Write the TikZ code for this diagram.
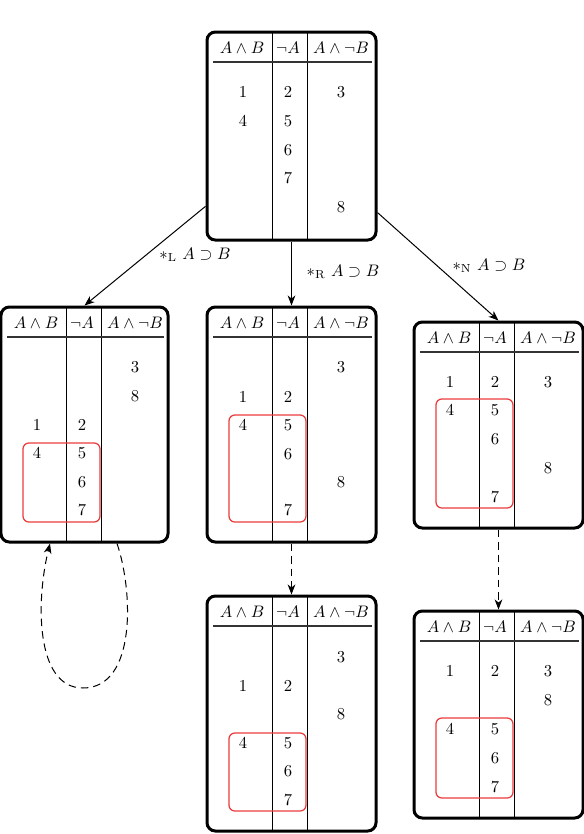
\documentclass[tikz,border=0pt]{standalone}
\usetikzlibrary{fit,arrows.meta}
\definecolor{boxred}{RGB}{235,60,60}
\tikzset{
  tbox/.style={draw, line width=1.8pt, rounded corners=5pt, inner sep=0pt},
  rbox/.style={draw=boxred, line width=0.75pt, rounded corners=3.5pt, inner sep=0pt},
  divline/.style={line width=0.55pt},
  hrule/.style={line width=0.8pt, draw=black!80},
  cell/.style={inner sep=0pt, anchor=center},
  conn/.style={line width=0.6pt, -{Stealth[length=6pt,width=4.6pt,inset=1.8pt]}},
  dconn/.style={conn, dash pattern=on 4.5pt off 3pt},
  lbl/.style={inner sep=0pt, anchor=center}
}
\newcommand\tbl[6]{%
  \coordinate (#1-nw) at (#2,#3);
  \coordinate (#1-se) at (#4,#5);
  \draw[divline] ({#2+65},#3) -- ({#2+65},#5);
  \draw[divline] ({#2+100},#3) -- ({#2+100},#5);
  \draw[hrule] ({#2+6},{#3+30}) -- ({#4-4},{#3+30});
  \node[tbox, fit=(#1-nw)(#1-se)] (#1) {};
  \node[cell] (#1-h1) at ({#2+35},{#3+16}) {$A\wedge B$};
  \node[cell] (#1-h2) at ({#2+81},{#3+16}) {$\neg A$};
  \node[cell] (#1-h3) at ({#2+134},{#3+16}) {$A\wedge\neg B$};
  \foreach \cx/\cy/\ct in {#6} \node[cell] (#1-n\ct) at ({#2+\cx},\cy) {$\ct$};
}
\newcommand\redbox[4]{%
  \coordinate (#1-ra) at ({#2+22},#3);
  \coordinate (#1-rb) at ({#2+99},#4);
  \node[rbox, fit=(#1-ra)(#1-rb)] (#1-red) {};
}
\begin{document}
\begin{tikzpicture}[x=0.6pt,y=-0.6pt]
\useasboundingbox (0,0) rectangle (584,834);
% top
\tbl{T}{207}{32}{376}{240}{36/92/1,81/92/2,134/92/3,36/121/4,81/121/5,81/150/6,81/178/7,134/207/8}
% left
\tbl{L}{1}{307}{168}{542}{134/367/3,134/396/8,36/425/1,81/425/2,36/453/4,81/453/5,81/482/6,81/510/7}
\redbox{L}{1}{443}{522}
% middle
\tbl{M}{207}{307}{376}{542}{134/367/3,36/397/1,81/397/2,36/425/4,81/425/5,81/454/6,134/482/8,81/510/7}
\redbox{M}{207}{415}{522}
% right
\tbl{R}{414}{322}{583}{528}{36/382/1,81/382/2,134/382/3,36/410/4,81/410/5,81/439/6,134/468/8,81/497/7}
\redbox{R}{414}{399}{508}
% bottom middle
\tbl{BM}{207}{596}{376}{831}{134/657/3,36/686/1,81/686/2,134/714/8,36/743/4,81/743/5,81/771/6,81/800/7}
\redbox{BM}{207}{733}{811}
% bottom right
\tbl{BR}{414}{611}{583}{818}{36/671/1,81/671/2,134/671/3,134/700/8,36/729/4,81/729/5,81/758/6,81/787/7}
\redbox{BR}{414}{718}{798}
% connectors
\draw[conn] (T) -- (L.north);
\draw[conn] (T.south) -- (M.north);
\draw[conn] (T) -- (R.north);
\node[lbl] (lL) at (195,255) {$*_{\mathrm{L}}\ A\supset B$};
\node[lbl] (lR) at (343,272) {$*_{\mathrm{R}}\ A\supset B$};
\node[lbl] (lN) at (489,266) {$*_{\mathrm{N}}\ A\supset B$};
\draw[dconn] (M.south) -- (BM.north);
\draw[dconn] (R.south) -- (BR.north);
\draw[dconn] ([xshift=19.5pt]L.south) .. controls (133,590) and (137,688) .. (83,688)
  .. controls (35,688) and (36,600) .. ([xshift=-20.7pt]L.south);
\end{tikzpicture}
\end{document}
